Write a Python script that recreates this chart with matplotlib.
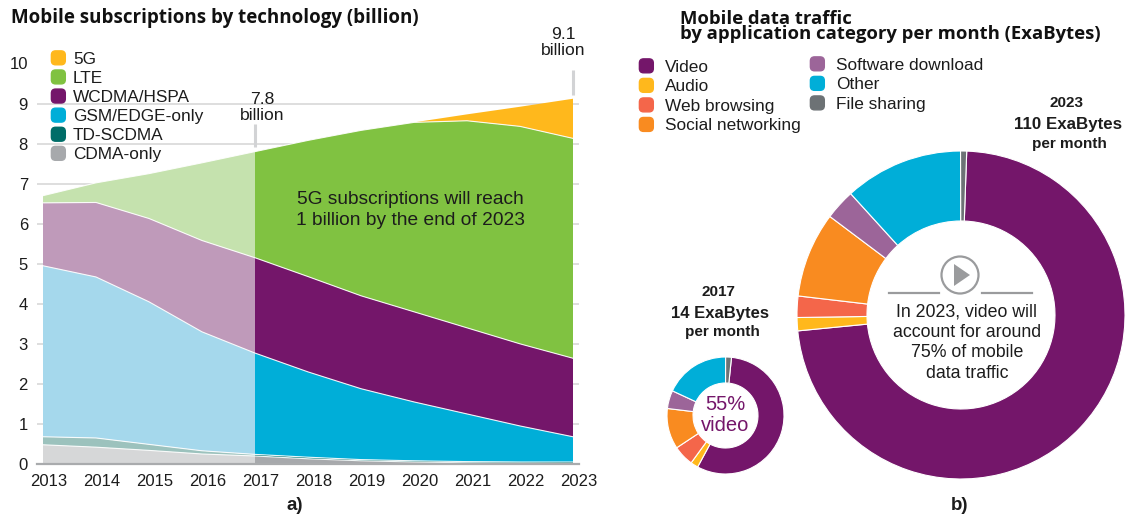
import matplotlib
matplotlib.use("Agg")
import matplotlib.pyplot as plt
import numpy as np
from matplotlib.patches import FancyBboxPatch, Patch, Circle, Polygon
from matplotlib.legend_handler import HandlerPatch
from matplotlib.transforms import ScaledTranslation

W, H = 1129, 518
plt.rcParams['font.family'] = ['Liberation Sans', 'DejaVu Sans']

years = [2013, 2014, 2015, 2016, 2017, 2018, 2019, 2020, 2021, 2022, 2023]
cdma = [.48, .42, .34, .25, .20, .13, .08, .05, .03, .02, .01]
td_scdma = [.20, .23, .15, .08, .04, .04, .03, .03, .03, .03, .04]
gsm = [4.27, 4.02, 3.56, 2.97, 2.53, 2.13, 1.77, 1.47, 1.19, .90, .63]
wcdma = [1.57, 1.86, 2.08, 2.28, 2.38, 2.38, 2.32, 2.25, 2.15, 2.05, 1.96]
lte = [.18, .49, 1.12, 1.94, 2.65, 3.40, 4.13, 4.73, 5.17, 5.43, 5.49]
g5 = [0, 0, 0, 0, 0, 0, 0, 0, .16, .49, .99]
stack_names = ['CDMA-only', 'TD-SCDMA', 'GSM/EDGE-only', 'WCDMA/HSPA', 'LTE', '5G']
stack_colors = ['#a7a9ac', '#006d68', '#00aed8', '#74166a', '#80c241', '#ffb81c']
stack_light = ['#d6d7d8', '#9cc2bd', '#a5d8ec', '#bf9aba', '#c5e2ae', '#ffe3a4']

app_names = ['Video', 'Audio', 'Web browsing', 'Social networking',
             'Software download', 'Other', 'File sharing']
app_colors = ['#74166a', '#ffb81c', '#f4664a', '#f98b20', '#9c6599', '#00aed8', '#6d7275']
share_2017 = [56.2, 2.1, 5.7, 11.2, 5.0, 18.1, 1.6]
share_2023 = [72.9, 1.3, 2.1, 8.4, 3.0, 11.7, 0.6]

fig = plt.figure(figsize=(W / 100, H / 100), dpi=100, facecolor='white')


def ax_px(l, t, r, b, **kw):
    return fig.add_axes([l / W, 1 - b / H, (r - l) / W, (b - t) / H], **kw)


def txt(x, y, s, **kw):
    kw.setdefault('ha', 'center')
    kw.setdefault('va', 'center')
    kw.setdefault('color', '#1c1c1c')
    return fig.text(x / W, 1 - y / H, s, **kw)


# ---------- stacked area ----------
ax = ax_px(37, 63.5, 579, 464)
pad = 6 / 53
ax.set_xlim(2013 - pad, 2023 + pad)
ax.set_ylim(0, 10)
y = np.array([cdma, td_scdma, gsm, wcdma, lte, g5])
ax.stackplot(years[:5], y[:, :5], colors=stack_light, linewidth=0, zorder=2)
ax.stackplot(years[4:], y[:, 4:], colors=stack_colors, linewidth=0, zorder=2)
tops = y.cumsum(axis=0)
for i in range(5):
    ax.plot(years, tops[i], color='white', lw=0.8, zorder=3, alpha=0.9)
ax.set_axisbelow(True)
ax.grid(axis='y', color='#dedede', lw=1.4)
ax.grid(axis='x', visible=False)
for s in ax.spines.values():
    s.set_visible(False)
ax.axhline(0, color='#a9abad', lw=1.6, clip_on=False, zorder=4)
ax.set_yticks(range(0, 11))
ax.set_xticks(years)
ax.tick_params(axis='both', length=0, labelsize=12, labelcolor='#1c1c1c')
ax.tick_params(axis='y', pad=6.5)
ax.tick_params(axis='x', pad=7.5)
for lab in ax.get_xticklabels():
    lab.set_transform(lab.get_transform() + ScaledTranslation(6 / 100, 0, fig.dpi_scale_trans))
ax.plot([2017, 2017], [7.91, 8.49], color='#d2d3d5', lw=2.2, solid_capstyle='butt', clip_on=False)
ax.plot([2023, 2023], [9.21, 9.84], color='#d2d3d5', lw=2.2, solid_capstyle='butt', clip_on=False)


def rounded(legend, orig_handle, xdescent, ydescent, width, height, fontsize):
    return FancyBboxPatch((-xdescent + 1, -ydescent), width - 2, width - 2,
                          boxstyle='round,pad=0,rounding_size=3', linewidth=0)


def make_legend(names, colors, x, y_top, spacing, textpad):
    handles = [Patch(facecolor=c, edgecolor=c, label=n) for n, c in zip(names, colors)]
    leg = fig.legend(handles=handles, loc='upper left', frameon=False, fontsize=12.4,
                     bbox_to_anchor=(x / W, 1 - y_top / H), bbox_transform=fig.transFigure,
                     borderpad=0, borderaxespad=0, handlelength=0.97, handleheight=0.9,
                     handletextpad=textpad, labelspacing=spacing, labelcolor='#1c1c1c',
                     handler_map={Patch: HandlerPatch(patch_func=rounded)})
    return leg


make_legend(stack_names[::-1], stack_colors[::-1], 50, 50.5, 0.175, 0.37)

TITLE_FONT = ['Open Sans', 'Liberation Sans']
txt(11, 18, 'Mobile subscriptions by technology (billion)', ha='left', fontsize=13.5,
    fontweight='bold', family=TITLE_FONT, color='#111111')
txt(262, 107.5, '7.8\nbillion', fontsize=12.6, linespacing=1.08)
txt(563, 42.5, '9.1\nbillion', fontsize=12.6, linespacing=1.08)
txt(410, 210, '5G subscriptions will reach\n1 billion by the end of 2023', fontsize=13.8, linespacing=1.38)
txt(295, 506, 'a)', fontsize=13.5, fontweight='bold')
txt(960, 506, 'b)', fontsize=13.5, fontweight='bold')

# ---------- donuts ----------
for (cx, cy, R, r, vals, start) in [(961, 315, 164, 94, share_2023, 88),
                                    (725.5, 415.5, 58.5, 32.5, share_2017, 84.1)]:
    a = ax_px(cx - R - 1, cy - R - 1, cx + R + 1, cy + R + 1)
    a.pie(vals, colors=app_colors, startangle=start, counterclock=False, radius=R / (R + 1),
          wedgeprops=dict(width=(R - r) / (R + 1), edgecolor='white', linewidth=0.8))
    a.set_xlim(-1, 1)
    a.set_ylim(-1, 1)
    a.patch.set_visible(False)

txt(680, 26.5, 'Mobile data traffic\nby application category per month (ExaBytes)', ha='left',
    fontsize=13.3, fontweight='bold', linespacing=0.8, family=TITLE_FONT, color='#111111')
make_legend(app_names[:4], app_colors[:4], 638, 58.5, 0.2, 0.6)
make_legend(app_names[4:], app_colors[4:], 809, 56.5, 0.2, 0.6)

txt(1066, 103, '2023', fontsize=11, fontweight='bold')
txt(1068, 124, '110 ExaBytes', fontsize=12.2, fontweight='bold')
txt(1069, 144, 'per month', fontsize=11, fontweight='bold')
txt(718, 292, '2017', fontsize=11, fontweight='bold')
txt(720, 313.5, '14 ExaBytes', fontsize=12, fontweight='bold')
txt(722, 332, 'per month', fontsize=11, fontweight='bold')
txt(725, 415, '55%\nvideo', fontsize=14.5, color='#74166a', linespacing=1.11)
txt(967, 342.5, 'In 2023, video will\naccount for around\n75% of mobile\ndata traffic', fontsize=12.8, linespacing=1.26)

# play icon (pixel overlay)
ov = ax_px(0, 0, W, H)
ov.set_xlim(0, W)
ov.set_ylim(H, 0)
ov.axis('off')
ov.patch.set_visible(False)
ov.add_patch(Circle((960, 275), 18.5, fill=False, ec='#9a9b9d', lw=1.6))
ov.add_patch(Polygon([(954, 264), (954, 286), (970, 275)], closed=True, fc='#9a9b9d', ec='none'))
ov.plot([889, 939], [293, 293], color='#9a9b9d', lw=1.6)
ov.plot([982, 1032], [293, 293], color='#9a9b9d', lw=1.6)

fig.savefig('out.png', dpi=100)
